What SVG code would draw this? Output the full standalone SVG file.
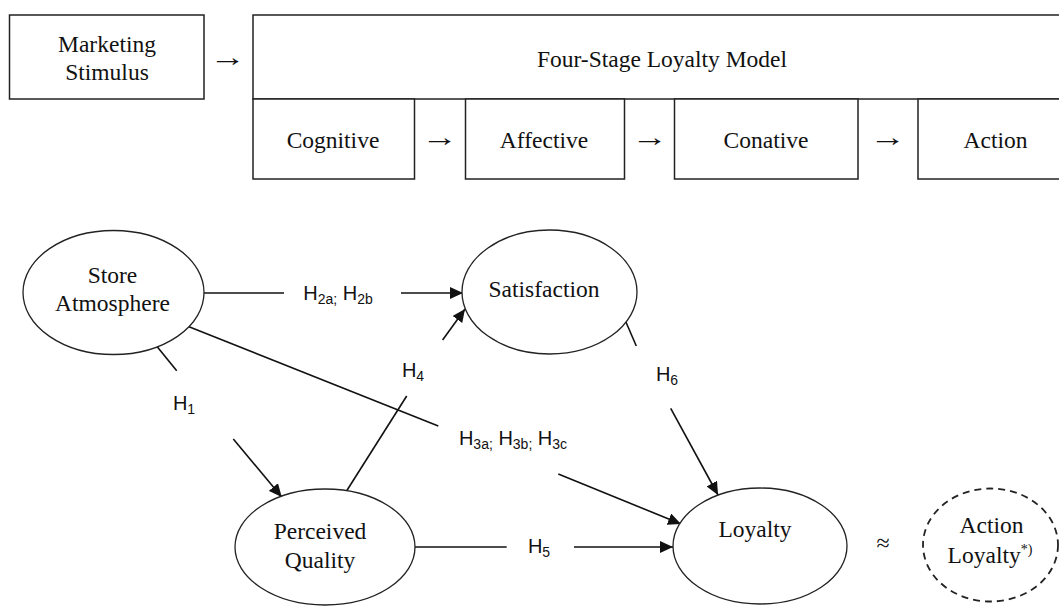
<svg xmlns="http://www.w3.org/2000/svg" width="1059" height="606" viewBox="0 0 1059 606">
<style>
.box{fill:#fff;stroke:#222;stroke-width:1.5}
.ell{fill:#fff;stroke:#222;stroke-width:1.3}
.dash{fill:#fff;stroke:#222;stroke-width:1.8;stroke-dasharray:7 5}
.t{font-family:"Liberation Serif","Times New Roman",serif;font-size:23.5px;fill:#111;text-anchor:middle}
.arw{font-family:"Liberation Serif","Times New Roman",serif;font-size:26px;fill:#111;text-anchor:middle}
.h{font-family:"Liberation Sans",Arial,sans-serif;font-size:20px;fill:#111;text-anchor:middle}
.s{font-size:14px}
.ln{stroke:#111;stroke-width:1.6;fill:none}
.ar{stroke:#111;stroke-width:1.6;fill:none;marker-end:url(#ah)}
</style>
<defs>
<marker id="ah" markerUnits="userSpaceOnUse" markerWidth="14" markerHeight="12" refX="13" refY="6" orient="auto">
<path d="M0,0 L13,6 L0,12 Z" fill="#111"/>
</marker>
</defs>
<rect width="1059" height="606" fill="#fff"/>

<g id="marketing-stimulus">
<rect class="box" x="9.5" y="15" width="194.5" height="84"/>
<text class="t" x="107" y="52">Marketing</text>
<text class="t" x="107" y="80">Stimulus</text>
</g>
<text class="arw" transform="translate(228,66) scale(1.4,1)">→</text>

<g id="four-stage-model">
<rect class="box" x="253" y="15" width="830" height="84"/>
<text class="t" x="662" y="67">Four-Stage Loyalty Model</text>
</g>
<g id="cognitive">
<rect class="box" x="253" y="99" width="161.5" height="80"/>
<text class="t" x="333" y="148">Cognitive</text>
</g>
<text class="arw" transform="translate(440,146) scale(1.4,1)">→</text>
<g id="affective">
<rect class="box" x="465.5" y="99" width="159" height="80"/>
<text class="t" x="544" y="148">Affective</text>
</g>
<text class="arw" transform="translate(650,146) scale(1.4,1)">→</text>
<g id="conative">
<rect class="box" x="674.5" y="99" width="183.5" height="80"/>
<text class="t" x="766" y="148">Conative</text>
</g>
<text class="arw" transform="translate(888,146) scale(1.4,1)">→</text>
<g id="action">
<rect class="box" x="918" y="99" width="160" height="80"/>
<text class="t" x="995.5" y="148">Action</text>
</g>

<g id="connectors">
<line class="ln" x1="204" y1="293" x2="284" y2="293"/>
<line class="ar" x1="401" y1="293" x2="463" y2="293"/>
<line class="ln" x1="346.7" y1="490.7" x2="406.7" y2="396"/>
<line class="ar" x1="442.6" y1="340" x2="465" y2="309"/>
<line class="ln" x1="155" y1="344" x2="176.7" y2="370.7"/>
<line class="ar" x1="233.3" y1="439" x2="281.7" y2="497"/>
<line class="ln" x1="189" y1="326.8" x2="438.3" y2="426"/>
<line class="ar" x1="558.3" y1="474" x2="681" y2="524"/>
<line class="ln" x1="415" y1="547" x2="506.7" y2="547"/>
<line class="ar" x1="574" y1="547" x2="673" y2="547"/>
<line class="ln" x1="625.5" y1="321" x2="636.3" y2="346"/>
<line class="ar" x1="670.7" y1="408.3" x2="718" y2="495"/>
</g>

<g id="labels">
<text class="h" x="338" y="300">H<tspan class="s" dy="4">2a;</tspan><tspan dy="-4"> H</tspan><tspan class="s" dy="4">2b</tspan></text>
<text class="h" x="413" y="377">H<tspan class="s" dy="4">4</tspan></text>
<text class="h" x="184" y="410">H<tspan class="s" dy="4">1</tspan></text>
<text class="h" x="513" y="445">H<tspan class="s" dy="4">3a;</tspan><tspan dy="-4"> H</tspan><tspan class="s" dy="4">3b;</tspan><tspan dy="-4"> H</tspan><tspan class="s" dy="4">3c</tspan></text>
<text class="h" x="539" y="553">H<tspan class="s" dy="4">5</tspan></text>
<text class="h" x="667" y="381">H<tspan class="s" dy="4">6</tspan></text>
</g>

<g id="store-atmosphere">
<ellipse class="ell" cx="113.5" cy="292.5" rx="90.5" ry="62"/>
<text class="t" x="112.5" y="283">Store</text>
<text class="t" x="112.5" y="311">Atmosphere</text>
</g>
<g id="satisfaction">
<ellipse class="ell" cx="549.5" cy="292" rx="87.5" ry="62"/>
<text class="t" x="544" y="297">Satisfaction</text>
</g>
<g id="perceived-quality">
<ellipse class="ell" cx="325" cy="547" rx="90" ry="58"/>
<text class="t" x="320" y="539">Perceived</text>
<text class="t" x="320" y="568">Quality</text>
</g>
<g id="loyalty">
<ellipse class="ell" cx="760" cy="546" rx="87" ry="58"/>
<text class="t" x="755" y="537">Loyalty</text>
</g>
<text class="t" x="883" y="551" style="font-size:24px">≈</text>
<g id="action-loyalty">
<ellipse class="dash" cx="990.5" cy="545" rx="67.5" ry="56.5"/>
<text class="t" x="991.5" y="533">Action</text>
<text class="t" x="990" y="563">Loyalty<tspan style="font-size:14px" dy="-9">*)</tspan></text>
</g>
</svg>
